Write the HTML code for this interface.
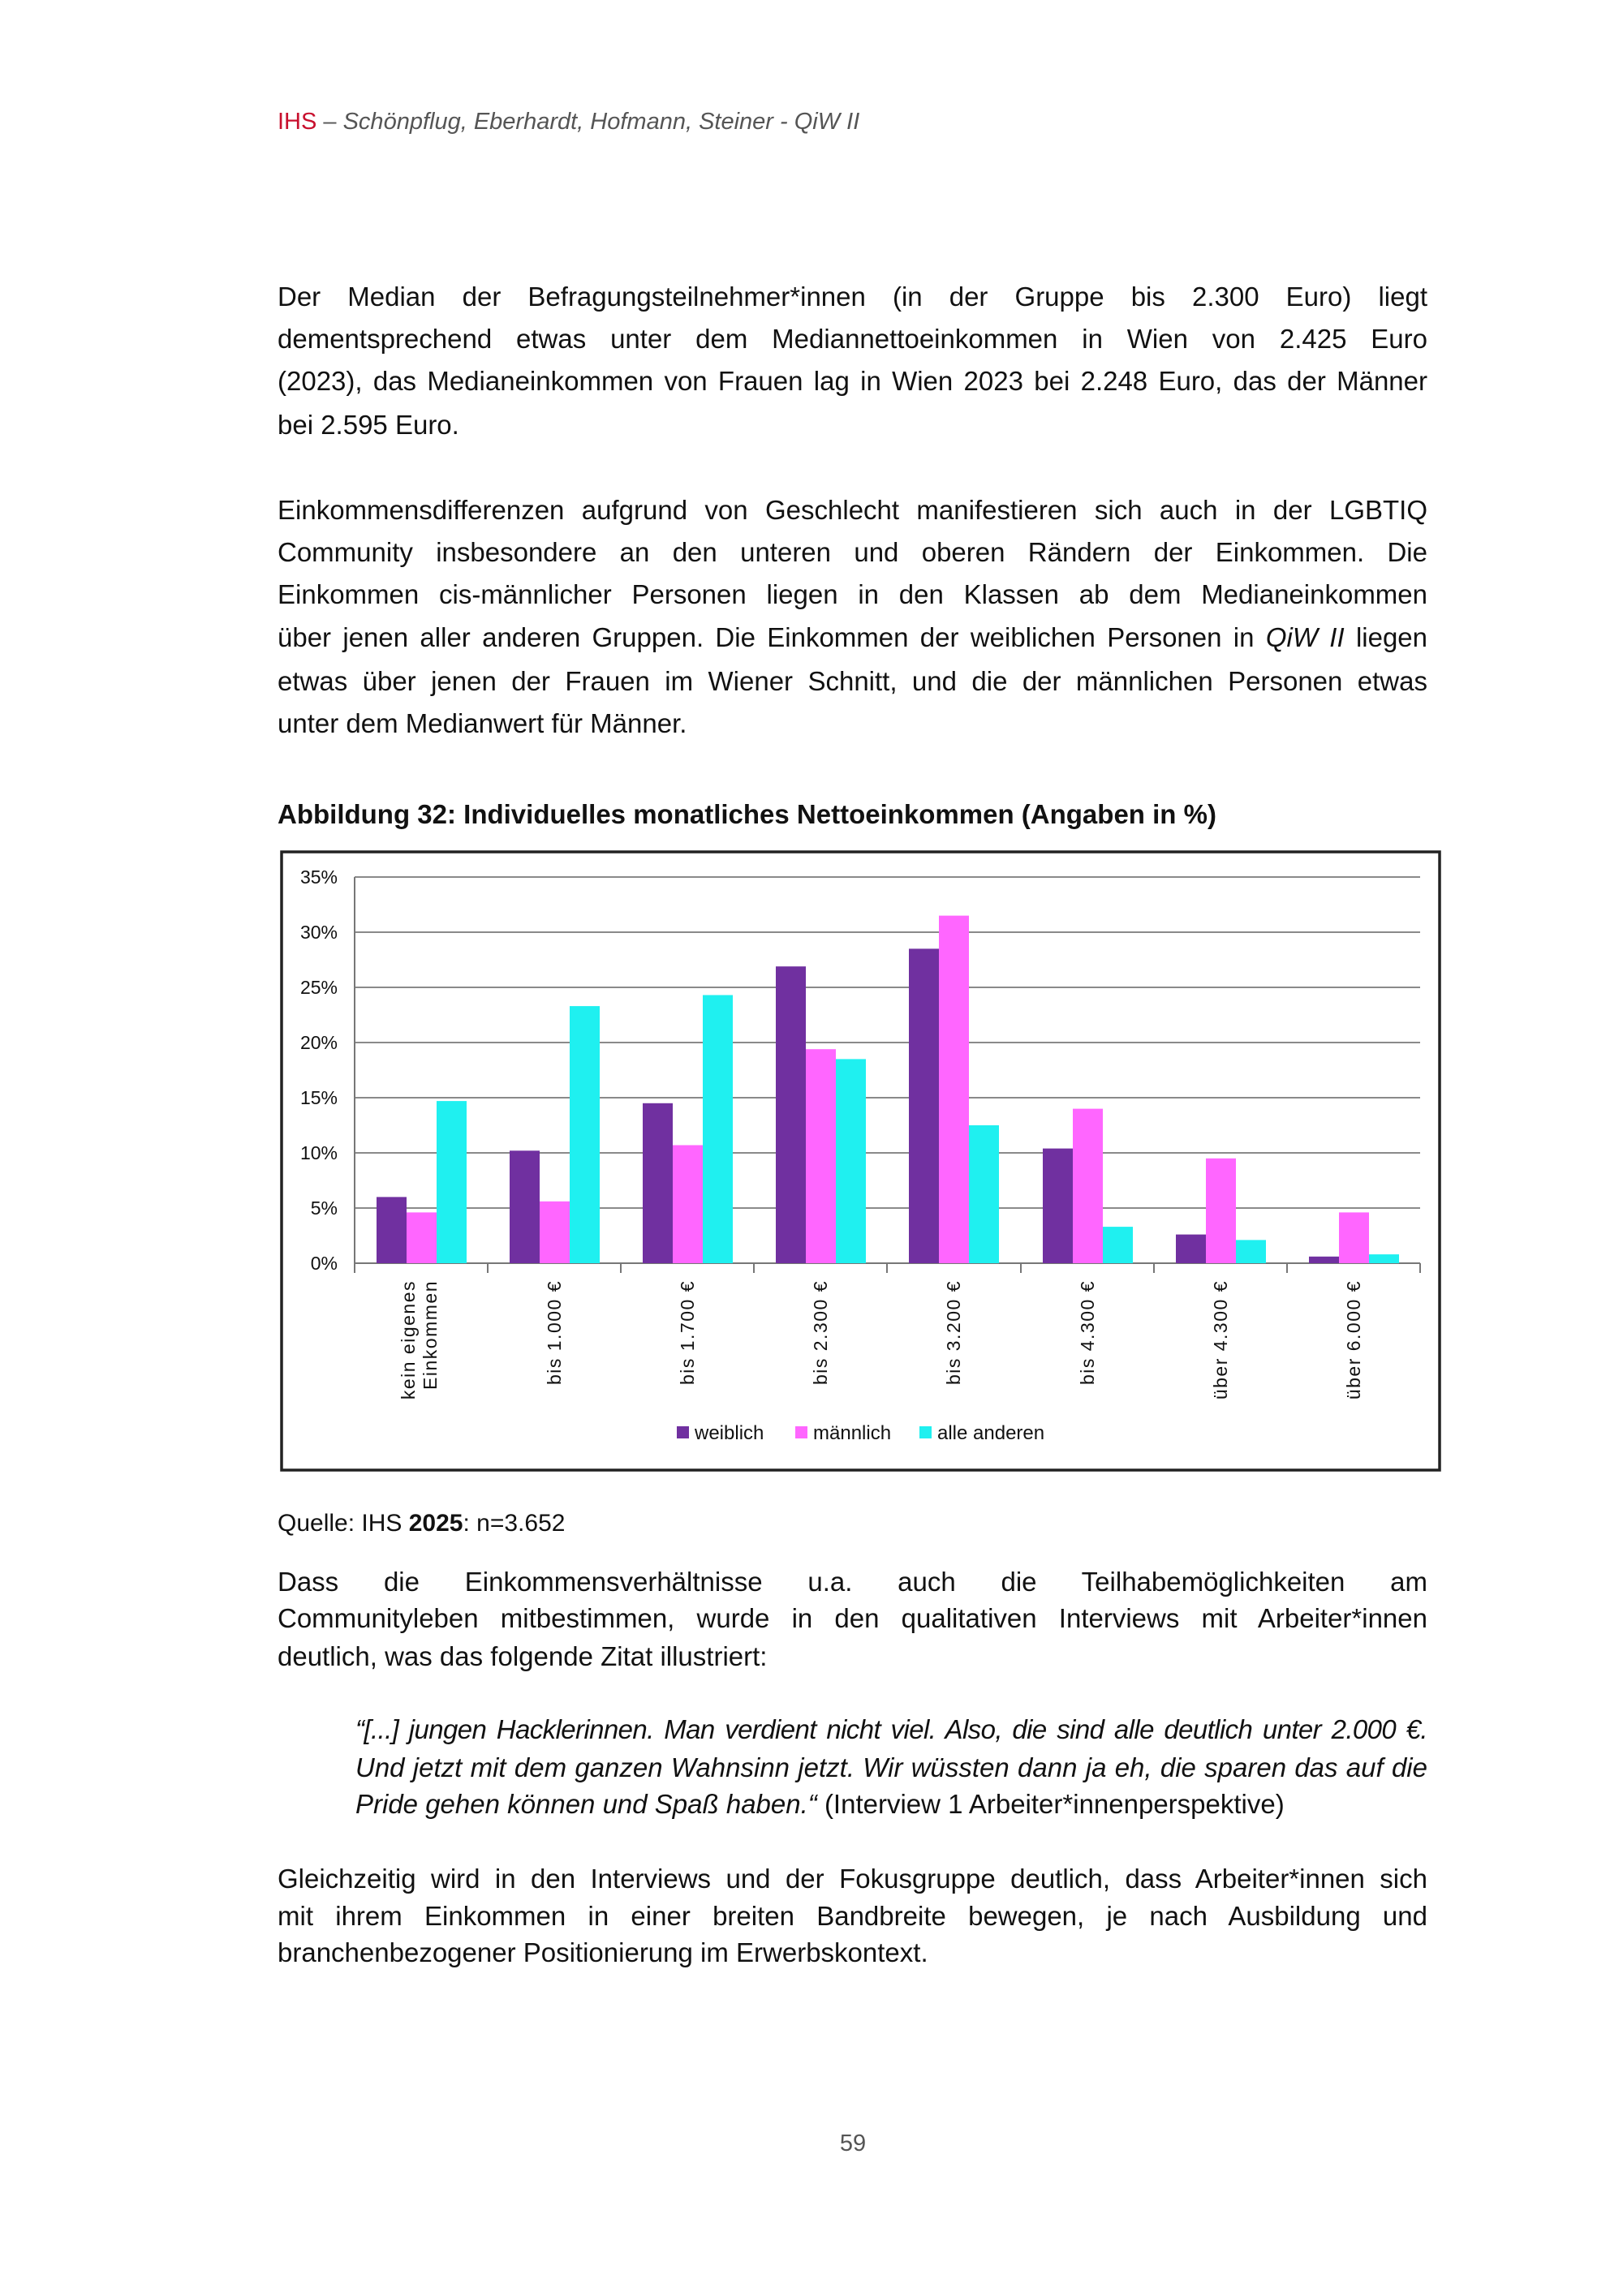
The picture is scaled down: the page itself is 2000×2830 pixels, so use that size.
<!DOCTYPE html>
<html><head><meta charset="utf-8"><style>
body{margin:0;background:#fff;}
#p{position:relative;width:2000px;height:2830px;overflow:hidden;background:#fff;font-family:"Liberation Sans",sans-serif;color:#111;}
.l{position:absolute;left:342px;width:1417px;font-size:33px;line-height:40px;white-space:nowrap;}
.j{text-align:justify;text-align-last:justify;white-space:normal;height:40px;overflow:visible;}
.q{left:438px;width:1321px;font-style:italic;}
</style></head><body><div id="p">
<div class="l" style="top:130px;font-size:29px;color:#555;"><span style="color:#c8102e">IHS</span> – <i>Schönpflug, Eberhardt, Hofmann, Steiner - QiW II</i></div>

<div class="l j" style="top:346px">Der Median der Befragungsteilnehmer*innen (in der Gruppe bis 2.300 Euro) liegt</div>
<div class="l j" style="top:398px">dementsprechend etwas unter dem Mediannettoeinkommen in Wien von 2.425 Euro</div>
<div class="l j" style="top:450px">(2023), das Medianeinkommen von Frauen lag in Wien 2023 bei 2.248 Euro, das der Männer</div>
<div class="l" style="top:504px">bei 2.595 Euro.</div>

<div class="l j" style="top:609px">Einkommensdifferenzen aufgrund von Geschlecht manifestieren sich auch in der LGBTIQ</div>
<div class="l j" style="top:661px">Community insbesondere an den unteren und oberen Rändern der Einkommen. Die</div>
<div class="l j" style="top:713px">Einkommen cis-männlicher Personen liegen in den Klassen ab dem Medianeinkommen</div>
<div class="l j" style="top:766px">über jenen aller anderen Gruppen. Die Einkommen der weiblichen Personen in <i>QiW II</i> liegen</div>
<div class="l j" style="top:820px">etwas über jenen der Frauen im Wiener Schnitt, und die der männlichen Personen etwas</div>
<div class="l" style="top:872px">unter dem Medianwert für Männer.</div>

<div class="l" style="top:984px;font-weight:bold;">Abbildung 32: Individuelles monatliches Nettoeinkommen (Angaben in %)</div>

<svg style="position:absolute;left:0;top:0" width="2000" height="2830" font-family="Liberation Sans, sans-serif">
<rect x="347" y="1050" width="1427" height="762" fill="#fff" stroke="#222" stroke-width="3.5"/>
<g stroke="#8a8a8a" stroke-width="2">
<line x1="437" x2="1750" y1="1081" y2="1081"/>
<line x1="437" x2="1750" y1="1149" y2="1149"/>
<line x1="437" x2="1750" y1="1217" y2="1217"/>
<line x1="437" x2="1750" y1="1285" y2="1285"/>
<line x1="437" x2="1750" y1="1353" y2="1353"/>
<line x1="437" x2="1750" y1="1421" y2="1421"/>
<line x1="437" x2="1750" y1="1489" y2="1489"/>
</g>
<g font-size="23" text-anchor="end" fill="#111">
<text x="416" y="1089">35%</text><text x="416" y="1157">30%</text><text x="416" y="1225">25%</text>
<text x="416" y="1293">20%</text><text x="416" y="1361">15%</text><text x="416" y="1429">10%</text>
<text x="416" y="1497">5%</text><text x="416" y="1565">0%</text>
</g>
<line x1="437" x2="1750" y1="1557" y2="1557" stroke="#777" stroke-width="2"/>
<line x1="437" x2="437" y1="1081" y2="1567" stroke="#777" stroke-width="2"/>
<g stroke="#777" stroke-width="2">
<line x1="437" x2="437" y1="1557" y2="1569"/><line x1="601" x2="601" y1="1557" y2="1569"/>
<line x1="765" x2="765" y1="1557" y2="1569"/><line x1="929" x2="929" y1="1557" y2="1569"/>
<line x1="1093" x2="1093" y1="1557" y2="1569"/><line x1="1258" x2="1258" y1="1557" y2="1569"/>
<line x1="1422" x2="1422" y1="1557" y2="1569"/><line x1="1586" x2="1586" y1="1557" y2="1569"/>
<line x1="1750" x2="1750" y1="1557" y2="1569"/>
</g>
<g>
<rect x="464" y="1475.4" width="37" height="81.6" fill="#7030a0"/><rect x="501" y="1494.4" width="37" height="62.6" fill="#ff66ff"/><rect x="538" y="1357.1" width="37" height="199.9" fill="#1ff0f0"/>
<rect x="628" y="1418.3" width="37" height="138.7" fill="#7030a0"/><rect x="665" y="1480.8" width="37" height="76.2" fill="#ff66ff"/><rect x="702" y="1240.1" width="37" height="316.9" fill="#1ff0f0"/>
<rect x="792" y="1359.8" width="37" height="197.2" fill="#7030a0"/><rect x="829" y="1411.5" width="37" height="145.5" fill="#ff66ff"/><rect x="866" y="1226.5" width="37" height="330.5" fill="#1ff0f0"/>
<rect x="956" y="1191.2" width="37" height="365.8" fill="#7030a0"/><rect x="993" y="1293.2" width="37" height="263.8" fill="#ff66ff"/><rect x="1030" y="1305.4" width="37" height="251.6" fill="#1ff0f0"/>
<rect x="1120" y="1169.4" width="37" height="387.6" fill="#7030a0"/><rect x="1157" y="1128.6" width="37" height="428.4" fill="#ff66ff"/><rect x="1194" y="1387" width="37" height="170" fill="#1ff0f0"/>
<rect x="1285" y="1415.6" width="37" height="141.4" fill="#7030a0"/><rect x="1322" y="1366.6" width="37" height="190.4" fill="#ff66ff"/><rect x="1359" y="1512.1" width="37" height="44.9" fill="#1ff0f0"/>
<rect x="1449" y="1521.6" width="37" height="35.4" fill="#7030a0"/><rect x="1486" y="1427.8" width="37" height="129.2" fill="#ff66ff"/><rect x="1523" y="1528.4" width="37" height="28.6" fill="#1ff0f0"/>
<rect x="1613" y="1548.8" width="37" height="8.2" fill="#7030a0"/><rect x="1650" y="1494.4" width="37" height="62.6" fill="#ff66ff"/><rect x="1687" y="1546.1" width="37" height="10.9" fill="#1ff0f0"/>
</g>
<g font-size="23" text-anchor="end" fill="#111" letter-spacing="1.5">
<text transform="translate(511,1578) rotate(-90)">kein eigenes</text>
<text transform="translate(538,1578) rotate(-90)">Einkommen</text>
<text transform="translate(691,1578) rotate(-90)">bis 1.000 €</text>
<text transform="translate(855,1578) rotate(-90)">bis 1.700 €</text>
<text transform="translate(1019,1578) rotate(-90)">bis 2.300 €</text>
<text transform="translate(1183,1578) rotate(-90)">bis 3.200 €</text>
<text transform="translate(1348,1578) rotate(-90)">bis 4.300 €</text>
<text transform="translate(1512,1578) rotate(-90)">über 4.300 €</text>
<text transform="translate(1676,1578) rotate(-90)">über 6.000 €</text>
</g>
<g font-size="24" fill="#111">
<rect x="834" y="1758" width="15" height="15" fill="#7030a0"/><text x="856" y="1774">weiblich</text>
<rect x="980" y="1758" width="15" height="15" fill="#ff66ff"/><text x="1002" y="1774">männlich</text>
<rect x="1133" y="1758" width="15" height="15" fill="#1ff0f0"/><text x="1155" y="1774">alle anderen</text>
</g>
</svg>

<div class="l" style="top:1858px;font-size:30px;">Quelle: IHS <b>2025</b>: n=3.652</div>

<div class="l j" style="top:1930px">Dass die Einkommensverhältnisse u.a. auch die Teilhabemöglichkeiten am</div>
<div class="l j" style="top:1975px">Communityleben mitbestimmen, wurde in den qualitativen Interviews mit Arbeiter*innen</div>
<div class="l" style="top:2022px">deutlich, was das folgende Zitat illustriert:</div>

<div class="l j q" style="top:2112px;letter-spacing:-0.6px;">“[...] jungen Hacklerinnen. Man verdient nicht viel. Also, die sind alle deutlich unter 2.000&nbsp;€.</div>
<div class="l j q" style="top:2159px">Und jetzt mit dem ganzen Wahnsinn jetzt. Wir wüssten dann ja eh, die sparen das auf die</div>
<div class="l q" style="top:2204px">Pride gehen können und Spaß haben.“ <span style="font-style:normal">(Interview 1 Arbeiter*innenperspektive)</span></div>

<div class="l j" style="top:2296px">Gleichzeitig wird in den Interviews und der Fokusgruppe deutlich, dass Arbeiter*innen sich</div>
<div class="l j" style="top:2342px">mit ihrem Einkommen in einer breiten Bandbreite bewegen, je nach Ausbildung und</div>
<div class="l" style="top:2387px">branchenbezogener Positionierung im Erwerbskontext.</div>

<div style="position:absolute;left:0;width:2102px;top:2626px;text-align:center;font-size:29px;color:#555;">59</div>
</div></body></html>
